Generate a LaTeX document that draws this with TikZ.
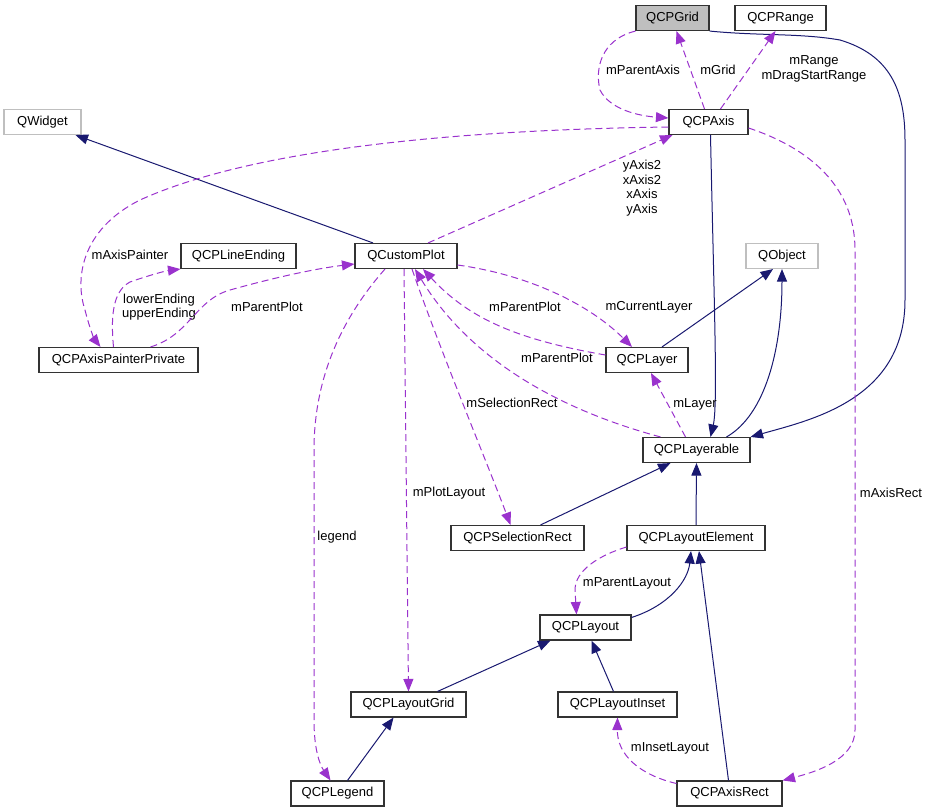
\documentclass[tikz,border=0pt]{standalone}
\usepackage{fontspec}
\setmainfont{Liberation Sans}
\usetikzlibrary{arrows.meta}
\definecolor{inhblue}{HTML}{191970}
\definecolor{usepurple}{HTML}{9A32CD}
\definecolor{boxgray}{HTML}{BFBFBF}
\begin{document}
\begin{tikzpicture}[x=1pt,y=-1pt,
 cls/.style={draw=black!80, line width=1.1pt, fill=white, minimum height=25pt, inner sep=0pt, font=\fontsize{13}{15}\selectfont},
 ext/.style={cls, draw=boxgray},
 inh/.style={draw=inhblue, line width=1pt, -{Triangle[length=12.5pt,width=10pt]}},
 use/.style={draw=usepurple, line width=1pt, dash pattern=on 7pt off 4pt, -{Triangle[length=12.5pt,width=10pt]}},
 lbl/.style={font=\fontsize{13}{14.5}\selectfont, align=center, inner sep=0pt}]
\useasboundingbox (0,0) rectangle (930,812);
% nodes
\node[cls, fill=boxgray, minimum width=73pt] (grid) at (672.5,18) {QCPGrid};
\node[cls, minimum width=91pt] (range) at (780.5,18) {QCPRange};
\node[cls, minimum width=79pt] (axis) at (708.5,122) {QCPAxis};
\node[ext, minimum width=77pt] (qw) at (42.5,122) {QWidget};
\node[cls, minimum width=115pt] (lend) at (238.5,256) {QCPLineEnding};
\node[cls, minimum width=102pt] (cp) at (406,256) {QCustomPlot};
\node[ext, minimum width=72pt] (qobj) at (782,256) {QObject};
\node[cls, minimum width=159pt] (app) at (118.5,360) {QCPAxisPainterPrivate};
\node[cls, minimum width=82pt] (layer) at (647,360) {QCPLayer};
\node[cls, minimum width=107pt] (lay) at (696.5,450) {QCPLayerable};
\node[cls, minimum width=133pt] (sel) at (517.5,538) {QCPSelectionRect};
\node[cls, minimum width=138pt] (le) at (696,538) {QCPLayoutElement};
\node[cls, minimum width=91pt] (layout) at (585.5,627.5) {QCPLayout};
\node[cls, minimum width=115pt] (lg) at (408.5,704.5) {QCPLayoutGrid};
\node[cls, minimum width=119pt] (inset) at (617.5,704.5) {QCPLayoutInset};
\node[cls, minimum width=93pt] (legend) at (337.5,793.5) {QCPLegend};
\node[cls, minimum width=105pt] (ar) at (729.5,793.5) {QCPAxisRect};
% inheritance edges
\draw[inh] ([xshift=-33]cp.north) -- ([xshift=33]qw.south);
\draw[inh] ([xshift=15]layer.north) -- ([xshift=-9]qobj.south);
\draw[inh] ([xshift=30]lay.north) .. controls (765,415) and (782,350) .. (qobj.south);
\draw[inh] ([xshift=2]axis.south) .. controls (714,300) and (718,405) .. ([xshift=14]lay.north);
\draw[inh] (grid.south east) .. controls (760,36) and (800,33) .. (840,40) .. controls (890,55) and (905,90) .. (905,140) -- (905,300) .. controls (905,400) and (810,420) .. (lay.north east);
\draw[inh] ([xshift=23]sel.north) -- ([xshift=-26]lay.south);
\draw[inh] (le.north) -- (lay.south);
\draw[inh] ([yshift=10]layout.east) .. controls (670,605) and (688,580) .. ([xshift=-5]le.south);
\draw[inh] ([xshift=-1]ar.north) -- ([xshift=3]le.south);
\draw[inh] ([xshift=29]lg.north) -- ([xshift=-35]layout.south);
\draw[inh] ([xshift=-4]inset.north) -- ([xshift=6]layout.south);
\draw[inh] ([xshift=10]legend.north) -- ([xshift=-15]lg.south);
% usage edges
\draw[use] (grid.south west) .. controls (600,40) and (595,70) .. (600,90) .. controls (610,110) and (640,116) .. ([yshift=4]axis.west);
\node[lbl] (lpa) at (643,70) {mParentAxis};
\draw[use] ([xshift=-4]axis.north) -- ([xshift=4]grid.south);
\node[lbl] (lgr) at (718,70) {mGrid};
\draw[use] ([xshift=12]axis.north) -- ([xshift=-5]range.south);
\node[lbl] (lrg) at (814,69) {mRange\\mDragStartRange};
\draw[use] ([yshift=-5]axis.west) .. controls (450,130) and (250,150) .. (140,200) .. controls (80,230) and (75,280) .. (85,310) .. controls (90,330) and (95,340) .. ([xshift=-18]app.north);
\node[lbl] (lap) at (130,255) {mAxisPainter};
\draw[use] ([xshift=22]cp.north) -- ([xshift=-36]axis.south);
\node[lbl] (lax) at (642,188) {yAxis2\\xAxis2\\xAxis\\yAxis};
\draw[use] ([yshift=-6]axis.east) .. controls (800,145) and (855,180) .. (855,250) -- (855,730) .. controls (855,760) and (815,772) .. (ar.north east);
\node[lbl] (lar) at (891,493) {mAxisRect};
\draw[use] ([xshift=-5]app.north) .. controls (110,310) and (115,290) .. (130,282) .. controls (150,275) and (165,271) .. (lend.south west);
\node[lbl] (lle) at (159,307) {lowerEnding\\upperEnding};
\draw[use] ([xshift=32]app.north) .. controls (190,335) and (195,300) .. (230,290) .. controls (280,276) and (320,268) .. ([yshift=-8]cp.west);
\node[lbl] (lpp1) at (267,307) {mParentPlot};
\draw[use] ([yshift=-9]cp.east) .. controls (530,275) and (590,305) .. ([xshift=-15]layer.north);
\node[lbl] (lcl) at (649,307) {mCurrentLayer};
\draw[use] ([yshift=5]layer.west) .. controls (520,340) and (470,320) .. ([xshift=17]cp.south);
\node[lbl] (lpp2) at (525,307) {mParentPlot};
\draw[use] ([xshift=-36]lay.north) .. controls (560,410) and (470,360) .. ([xshift=9]cp.south);
\node[lbl] (lpp3) at (557,358) {mParentPlot};
\draw[use] ([xshift=-11]lay.north) -- ([xshift=4]layer.south);
\node[lbl] (lly) at (695,404) {mLayer};
\draw[use] ([xshift=6]cp.south) .. controls (440,350) and (490,470) .. ([xshift=-7]sel.north);
\node[lbl] (lsr) at (512,403) {mSelectionRect};
\draw[use] ([xshift=-2]cp.south) -- (lg.north);
\node[lbl] (lpl) at (449,493) {mPlotLayout};
\draw[use] ([xshift=-21]cp.south) .. controls (340,320) and (314,380) .. (314,450) -- (314,720) .. controls (314,750) and (320,765) .. ([xshift=-7]legend.north);
\node[lbl] (llg) at (337,537) {legend};
\draw[use] ([yshift=-9]le.west) .. controls (600,555) and (575,570) .. (575,590) -- ([xshift=-9]layout.north);
\node[lbl] (lplo) at (627,583) {mParentLayout};
\draw[use] ([yshift=10]ar.west) .. controls (640,775) and (617,755) .. (inset.south);
\node[lbl] (lil) at (670,748) {mInsetLayout};
\end{tikzpicture}
\end{document}
